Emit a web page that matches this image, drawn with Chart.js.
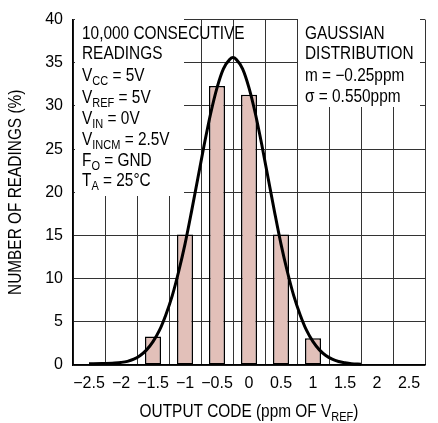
<!DOCTYPE html>
<html><head><meta charset="utf-8">
<script src="https://cdn.jsdelivr.net/npm/chart.js@4/dist/chart.umd.min.js"></script>
<style>html,body{margin:0;padding:0;background:#fff}</style>
</head><body>
<canvas id="c" width="438" height="423"></canvas>
<script>
// Histogram bins (output code, ppm) and percentage of readings
const binCenters = [-2, -1.5, -1, -0.5, 0, 0.5, 1, 1.5];
const binPercents = [0.15, 3.3, 15.1, 32.3, 31.3, 15.1, 3.1, 0.15];
// Gaussian curve points
const curveX = [-2.5, -2.3, -2.1, -2.0, -1.9, -1.8, -1.7, -1.6, -1.5, -1.4, -1.3, -1.2, -1.1, -1.0, -0.9, -0.8, -0.7, -0.6, -0.5, -0.4, -0.3, -0.25, -0.2, -0.1, 0, 0.1, 0.2, 0.3, 0.4, 0.5, 0.6, 0.7, 0.8, 0.9, 1.0, 1.1, 1.2, 1.3, 1.4, 1.5, 1.6, 1.75];
const curveY = [0.15, 0.18, 0.24, 0.3, 0.42, 0.67, 1.1, 1.75, 2.7, 4.0, 5.8, 8.0, 10.8, 14.0, 17.7, 21.6, 25.5, 29.1, 32.1, 34.3, 35.4, 35.6, 35.4, 34.3, 32.1, 29.1, 25.5, 21.6, 17.7, 14.0, 10.8, 8.0, 5.8, 4.0, 2.7, 1.75, 1.1, 0.67, 0.4, 0.25, 0.15, 0.1];
const xTickValues = [-2.5, -2, -1.5, -1, -0.5, 0, 0.5, 1, 1.5, 2, 2.5];
const xTickLabels = ['\u22122.5', '\u22122', '\u22121.5', '\u22121', '\u22120.5', '0', '0.5', '1', '1.5', '2', '2.5'];
const yTickLabels = ['0', '5', '10', '15', '20', '25', '30', '35', '40'];

const FONT = '"Liberation Sans", Arial, sans-serif';
const K = 0.88; // horizontal condensing of text

function richWidth(ctx, parts, size, subSize) {
  let w = 0;
  for (const [t, sub] of parts) {
    ctx.font = (sub ? subSize : size) + 'px ' + FONT;
    w += ctx.measureText(t).width;
  }
  return w * K;
}
function drawRich(ctx, x, y, parts, size, subSize) {
  ctx.save();
  ctx.translate(x, y);
  ctx.scale(K, 1);
  let cx = 0;
  for (const [t, sub] of parts) {
    ctx.font = (sub ? subSize : size) + 'px ' + FONT;
    ctx.fillText(t, cx, sub ? 4 : 0);
    cx += ctx.measureText(t).width;
  }
  ctx.restore();
}

const leftLines = [
  [['10,000 CONSECUTIVE']], [['READINGS']],
  [['V'], ['CC', 1], [' = 5V']],
  [['V'], ['REF', 1], [' = 5V']],
  [['V'], ['IN', 1], [' = 0V']],
  [['V'], ['INCM', 1], [' = 2.5V']],
  [['F'], ['O', 1], [' = GND']],
  [['T'], ['A', 1], [' = 25\u00B0C']]
];
const leftBase = [38.5, 59, 81, 102.5, 124, 145, 166, 186];
const rightLines = [[['GAUSSIAN']], [['DISTRIBUTION']], [['m = \u22120.25ppm']], [['\u03C3 = 0.550ppm']]];
const rightBase = [38.5, 59, 81, 102];

const annot = {
  id: 'annot',
  beforeDatasetsDraw(chart) {
    const ctx = chart.ctx;
    ctx.save();
    ctx.fillStyle = '#fff';
    ctx.fillRect(75, 16, 109, 180);
    ctx.fillRect(298, 16, 122, 91);
    ctx.fillStyle = '#000';
    ctx.textBaseline = 'alphabetic';
    ctx.textAlign = 'left';
    leftLines.forEach((p, i) => drawRich(ctx, 82, leftBase[i], p, 17.5, 12.5));
    rightLines.forEach((p, i) => drawRich(ctx, 305, rightBase[i], p, 17.5, 12.5));
    ctx.restore();
  },
  afterDraw(chart) {
    const ctx = chart.ctx;
    const a = chart.chartArea;
    ctx.save();
    ctx.fillStyle = '#000';
    ctx.textBaseline = 'alphabetic';
    ctx.textAlign = 'left';
    const xt = [['OUTPUT CODE (ppm OF V'], ['REF', 1], [')']];
    const w = richWidth(ctx, xt, 17.5, 12.5);
    drawRich(ctx, (a.left + a.right) / 2 - w / 2, 417, xt, 17.5, 12.5);
    ctx.translate(21, (a.top + a.bottom) / 2);
    ctx.rotate(-Math.PI / 2);
    ctx.scale(K, 1);
    ctx.textAlign = 'center';
    ctx.font = '17.5px ' + FONT;
    ctx.fillText('NUMBER OF READINGS (%)', 0, 0);
    ctx.restore();
  }
};

new Chart(document.getElementById('c'), {
  type: 'bar',
  data: {
    datasets: [
      {
        type: 'line',
        data: curveX.map((x, i) => ({ x: x, y: curveY[i] })),
        borderColor: '#000',
        borderWidth: 3,
        pointRadius: 0,
        tension: 0.4,
        cubicInterpolationMode: 'monotone',
        fill: false,
        clip: 4,
        order: 0
      },
      {
        type: 'bar',
        data: binCenters.map((x, i) => ({ x: x, y: binPercents[i] })),
        backgroundColor: '#e2c0b9',
        borderColor: '#000',
        borderWidth: 1.5,
        borderSkipped: false,
        barPercentage: 0.5,
        categoryPercentage: 1,
        order: 1
      }
    ]
  },
  options: {
    responsive: false,
    animation: false,
    devicePixelRatio: 1,
    layout: { padding: { left: 0, right: 13, top: 14, bottom: 0 } },
    plugins: { legend: { display: false }, tooltip: { enabled: false } },
    scales: {
      x: {
        type: 'linear', min: -2.5, max: 2.5,
        afterBuildTicks: s => { s.ticks = xTickValues.map(v => ({ value: v })); },
        afterFit: s => { s.height = 58; },
        grid: { color: '#333', lineWidth: 1, drawTicks: false },
        border: { color: '#000', width: 1.5 },
        ticks: {
          padding: 9, color: '#000', font: { family: FONT, size: 16 },
          maxRotation: 0, minRotation: 0, autoSkip: false,
          callback: (v) => xTickLabels[xTickValues.indexOf(v)]
        }
      },
      y: {
        min: 0, max: 40,
        afterBuildTicks: s => { s.ticks = yTickLabels.map(v => ({ value: +v })); },
        afterFit: s => { s.width = 73; },
        grid: { color: '#333', lineWidth: 1, drawTicks: false },
        border: { color: '#000', width: 1.5 },
        ticks: {
          padding: 10, color: '#000', font: { family: FONT, size: 16 },
          callback: (v) => yTickLabels[yTickLabels.indexOf(String(v))]
        }
      }
    }
  },
  plugins: [annot]
});
</script>
</body></html>
